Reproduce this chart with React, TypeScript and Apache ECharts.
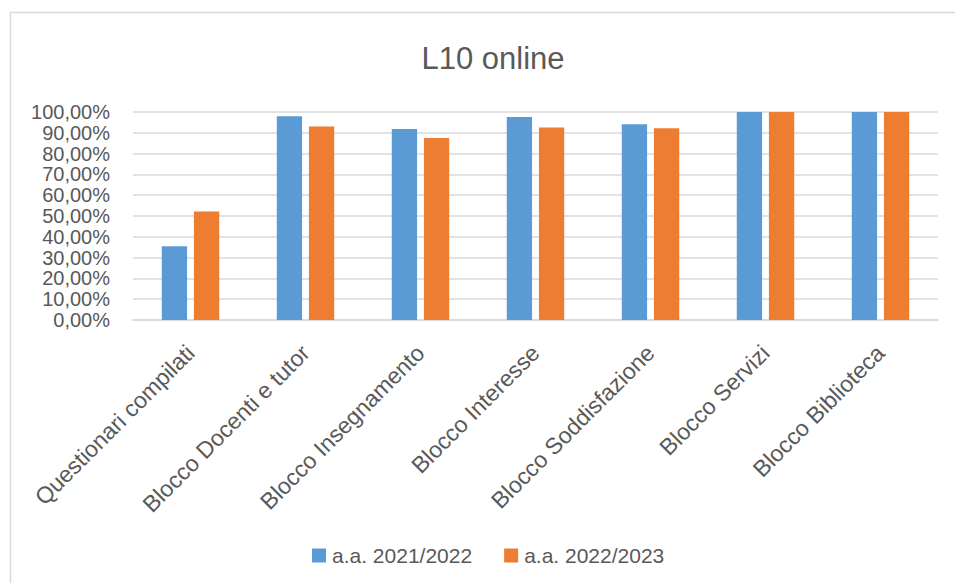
import React, { useEffect, useRef } from "react";
import * as echarts from "echarts";

const title = "L10 online";
const categories = [
  "Questionari compilati",
  "Blocco Docenti e tutor",
  "Blocco Insegnamento",
  "Blocco Interesse",
  "Blocco Soddisfazione",
  "Blocco Servizi",
  "Blocco Biblioteca",
];
const seriesNames = ["a.a. 2021/2022", "a.a. 2022/2023"];
const values2122 = [35.5, 97.9, 91.8, 97.6, 94.1, 100, 100];
const values2223 = [52.2, 93.0, 87.5, 92.5, 92.2, 100, 100];
const colors = ["#5B9BD5", "#ED7D31"];

const FONT = "'Liberation Sans', Arial, sans-serif";
const TEXT = "#595959";

export default function App() {
  const ref = useRef<HTMLDivElement>(null);
  useEffect(() => {
    document.body.style.margin = "0";
    const chart = echarts.init(ref.current!, null, { renderer: "svg" });
    chart.setOption({
      animation: false,
      backgroundColor: "#ffffff",
      textStyle: { fontFamily: FONT },
      title: {
        text: title,
        left: 488,
        textAlign: "center",
        top: 38,
        textStyle: { fontFamily: FONT, fontSize: 31, fontWeight: "normal", color: TEXT },
      },
      graphic: [
        {
          type: "rect",
          shape: { x: 10.5, y: 12.5, width: 1000, height: 1000 },
          style: { fill: "none", stroke: "#d9d9d9", lineWidth: 1.5 },
          silent: true,
          z: -1,
        },
      ],
      legend: {
        left: 307,
        top: 540,
        itemWidth: 14,
        itemHeight: 14,
        itemGap: 32,
        icon: "rect",
        textStyle: { fontFamily: FONT, fontSize: 21, color: TEXT, padding: [0, 0, 0, 1] },
        data: seriesNames,
      },
      grid: { left: 133, right: 17, top: 112, bottom: 263, containLabel: false },
      xAxis: {
        type: "category",
        data: categories,
        axisLine: { lineStyle: { color: "#d9d9d9", width: 1.5 } },
        axisTick: { show: false },
        axisLabel: {
          rotate: 45,
          interval: 0,
          margin: 29,
          fontFamily: FONT,
          fontSize: 23,
          color: TEXT,
        },
      },
      yAxis: {
        type: "value",
        min: 0,
        max: 100,
        interval: 10,
        axisLine: { show: false },
        axisTick: { show: false },
        splitLine: { lineStyle: { color: "#d9d9d9", width: 1.5 } },
        axisLabel: {
          margin: 23,
          fontFamily: FONT,
          fontSize: 20,
          color: TEXT,
          formatter: (v: number) => v.toFixed(2).replace(".", ",") + "%",
        },
      },
      series: [
        {
          name: seriesNames[0],
          type: "bar",
          data: values2122,
          barWidth: "22%",
          barGap: "27%",
          itemStyle: { color: colors[0] },
        },
        {
          name: seriesNames[1],
          type: "bar",
          data: values2223,
          barWidth: "22%",
          barGap: "27%",
          itemStyle: { color: colors[1] },
        },
      ],
    });
    return () => chart.dispose();
  }, []);
  return <div ref={ref} style={{ width: 955, height: 583 }} />;
}
